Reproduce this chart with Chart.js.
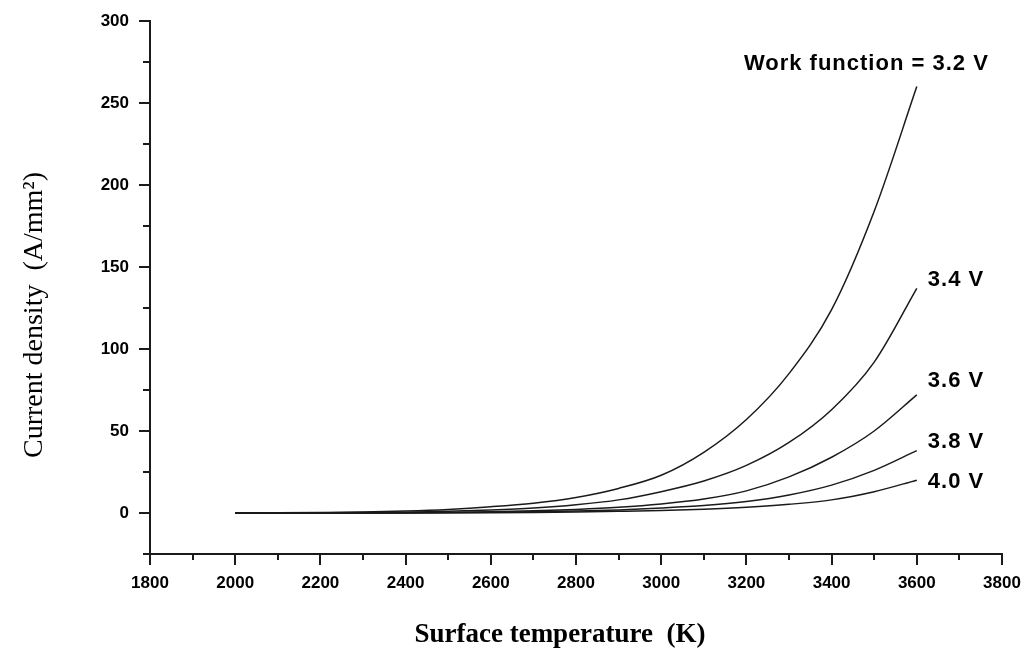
<!DOCTYPE html>
<html>
<head>
<meta charset="utf-8">
<script src="https://cdn.jsdelivr.net/npm/chart.js@4.4.1/dist/chart.umd.min.js"></script>
<style>
  html, body { margin: 0; padding: 0; background: #fff; }
  #wrap { width: 1036px; height: 654px; }
</style>
</head>
<body>
<div id="wrap"><canvas id="chart" width="1036" height="654"></canvas></div>
<script>
// Surface temperature (K)
const temps = [2000, 2100, 2200, 2300, 2400, 2500, 2600, 2700, 2800, 2900, 3000, 3100, 3200, 3300, 3400, 3500, 3600];

// Current density (A/mm^2) per work function
const wf32 = [0, 0.1, 0.3, 0.6, 1.2, 2.2, 3.8, 6, 9.5, 15, 23, 37, 57, 85, 124, 184, 260];
const wf34 = [0, 0.04, 0.1, 0.25, 0.5, 1, 1.8, 3, 5, 8, 13, 19.5, 29, 43, 63, 92, 137];
const wf36 = [0, 0.01, 0.04, 0.1, 0.2, 0.4, 0.7, 1.3, 2.2, 3.5, 5.5, 8.5, 13.5, 22, 34, 50, 72];
const wf38 = [0, 0, 0.02, 0.05, 0.1, 0.2, 0.4, 0.7, 1.2, 1.9, 3, 4.5, 7, 11, 17, 26, 38];
const wf40 = [0, 0, 0, 0.02, 0.05, 0.1, 0.2, 0.35, 0.6, 1, 1.5, 2.3, 3.5, 5.3, 8, 13, 20];

const curveLabels = ['Work function = 3.2 V', '3.4 V', '3.6 V', '3.8 V', '4.0 V'];

// label placement relative to the last point of each curve (px)
const labelOffsets = [
    { dx: 72, dy: -23, align: 'right' },
    { dx: 11, dy: -8, align: 'left' },
    { dx: 11, dy: -14, align: 'left' },
    { dx: 11, dy: -9, align: 'left' },
    { dx: 11, dy: 2, align: 'left' }
];

const ink = '#1a1a1a';
const tickFont = { family: '"Liberation Sans", Arial, sans-serif', size: 17, weight: 'bold' };

function series(values) {
    return values.map((v, i) => ({ x: temps[i], y: v }));
}

const datasets = [wf32, wf34, wf36, wf38, wf40].map((vals, i) => ({
    label: curveLabels[i],
    data: series(vals),
    borderColor: ink,
    borderWidth: 1.5,
    pointRadius: 0,
    fill: false,
    cubicInterpolationMode: 'monotone'
}));

// minor ticks, curve labels and axis titles
const extras = {
    id: 'extras',
    afterDraw(chart) {
        const ctx = chart.ctx;
        const xs = chart.scales.x, ys = chart.scales.y;
        const area = chart.chartArea;
        ctx.save();
        ctx.strokeStyle = ink;
        ctx.lineWidth = 2;
        ctx.beginPath();
        for (let t = 1900; t < 3800; t += 200) {
            const px = Math.round(xs.getPixelForValue(t));
            ctx.moveTo(px, area.bottom);
            ctx.lineTo(px, area.bottom + 6);
        }
        for (let v = -25; v < 300; v += 50) {
            const py = Math.round(ys.getPixelForValue(v));
            ctx.moveTo(area.left, py);
            ctx.lineTo(area.left - 7, py);
        }
        ctx.stroke();

        // curve labels
        ctx.fillStyle = '#000';
        ctx.font = 'bold 22px "Liberation Sans", Arial, sans-serif';
        ctx.letterSpacing = '1px';
        ctx.textBaseline = 'middle';
        chart.data.datasets.forEach((ds, i) => {
            const pts = chart.getDatasetMeta(i).data;
            const last = pts[pts.length - 1];
            const off = labelOffsets[i];
            ctx.textAlign = off.align;
            ctx.fillText(ds.label, last.x + off.dx, last.y + off.dy);
        });
        ctx.letterSpacing = '0px';

        // axis titles
        ctx.textAlign = 'center';
        ctx.font = 'bold 27px "Liberation Serif", "Times New Roman", serif';
        ctx.fillText('Surface temperature  (K)', 560, 635);
        ctx.save();
        ctx.translate(35, 315);
        ctx.rotate(-Math.PI / 2);
        ctx.font = '28px "Liberation Serif", "Times New Roman", serif';
        ctx.fillText('Current density  (A/mm\u00B2)', 0, 0);
        ctx.restore();
        ctx.restore();
    }
};

new Chart(document.getElementById('chart'), {
    type: 'line',
    data: { datasets },
    plugins: [extras],
    options: {
        responsive: false,
        animation: false,
        layout: { padding: { left: 0, top: 21, right: 34, bottom: 0 } },
        plugins: { legend: { display: false }, tooltip: { enabled: false } },
        scales: {
            x: {
                type: 'linear',
                min: 1800,
                max: 3800,
                afterFit: (s) => { s.height = 100; },
                ticks: { stepSize: 200, color: '#000', font: tickFont, padding: 8, maxRotation: 0, callback: (v) => String(v) },
                grid: { drawOnChartArea: false, tickLength: 11, color: ink, lineWidth: 2 },
                border: { color: ink, width: 2 }
            },
            y: {
                min: -25,
                max: 300,
                afterFit: (s) => { s.width = 150; },
                afterBuildTicks: (s) => { s.ticks = s.ticks.filter(t => t.value % 50 === 0); },
                ticks: { stepSize: 25, color: '#000', font: tickFont, padding: 10, callback: (v) => String(v) },
                grid: { drawOnChartArea: false, tickLength: 11, color: ink, lineWidth: 2 },
                border: { color: ink, width: 2 }
            }
        }
    }
});
</script>
</body>
</html>
